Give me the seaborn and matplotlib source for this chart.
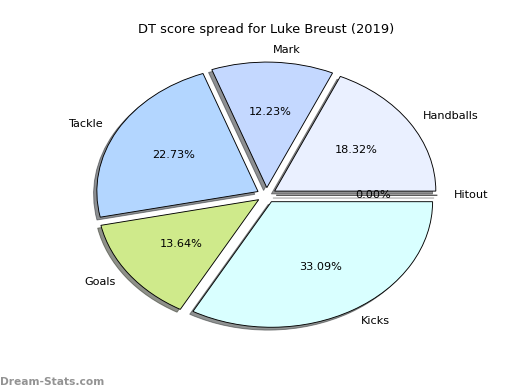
import matplotlib
matplotlib.use("Agg")
import matplotlib.pyplot as plt
import seaborn as sns

labels = ["Hitout", "Handballs", "Mark", "Tackle", "Goals", "Kicks"]
scores = [0.00, 18.32, 12.23, 22.73, 13.64, 33.09]
colors = ["#ffffff", "#eaf0ff", "#c4d8ff", "#b3d6ff", "#cfea8b", "#d9ffff"]
explode = [0.06] * len(labels)

sns.set_style("white", rc={"text.color": "black"})

fig, ax = plt.subplots(figsize=(6.4, 4.8), dpi=81.25)
ax.pie(scores, labels=labels, colors=colors, explode=explode,
       autopct="%1.2f%%", startangle=0,
       shadow={"ox": -0.018, "oy": -0.02, "shade": 0.85},
       wedgeprops={"edgecolor": "black", "linewidth": 0.8})
ax.set_aspect("auto")
ax.set_position([0.125, 0.097, 0.775, 0.805])
ax.set_title("DT score spread for Luke Breust (2019)", fontsize=11.5, pad=4.5)

# watermark in the bottom left corner
fig.text(0.0, 0.014, "Dream-Stats.com", fontsize=9.4, color="#939393",
         fontweight="semibold")

fig.savefig("out.png", dpi=81.25)
